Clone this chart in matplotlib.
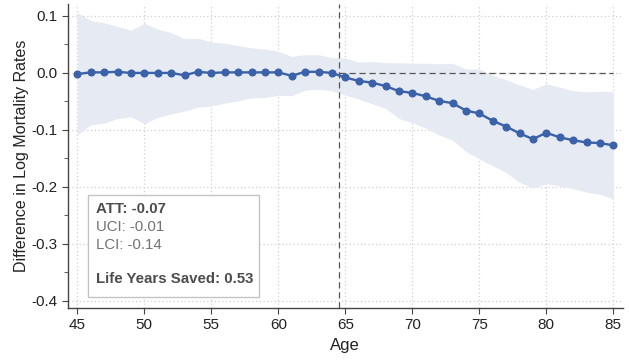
#!/usr/bin/env python3
"""Event-study style plot: difference in log mortality rates by age."""

import matplotlib

matplotlib.use("Agg")
import matplotlib.pyplot as plt
from matplotlib.ticker import MultipleLocator

plt.rcParams["font.family"] = ["Liberation Sans", "DejaVu Sans"]

ages = list(range(45, 86))
estimate = [
    -0.002, 0.001, 0.001, 0.002, 0.000, 0.000, 0.000, 0.000, -0.004, 0.002,
    0.000, 0.001, 0.001, 0.001, 0.001, 0.001, -0.005, 0.002, 0.002, 0.000,
    -0.008, -0.014, -0.017, -0.023, -0.032, -0.035, -0.041, -0.049, -0.053, -0.066,
    -0.071, -0.084, -0.094, -0.106, -0.116, -0.105, -0.113, -0.118, -0.122, -0.123,
    -0.127,
]
upper = [
    0.106, 0.092, 0.088, 0.082, 0.075, 0.087, 0.077, 0.071, 0.060, 0.061,
    0.054, 0.052, 0.048, 0.044, 0.042, 0.038, 0.029, 0.032, 0.032, 0.027,
    0.026, 0.019, 0.020, 0.018, 0.018, 0.017, 0.017, 0.016, 0.017, 0.007,
    0.007, -0.004, -0.012, -0.021, -0.029, -0.019, -0.025, -0.031, -0.033, -0.032,
    -0.033,
]
lower = [
    -0.109, -0.091, -0.088, -0.080, -0.077, -0.089, -0.078, -0.072, -0.067, -0.060,
    -0.058, -0.053, -0.049, -0.044, -0.043, -0.039, -0.040, -0.030, -0.029, -0.031,
    -0.039, -0.046, -0.054, -0.062, -0.080, -0.087, -0.097, -0.109, -0.118, -0.138,
    -0.151, -0.163, -0.175, -0.192, -0.202, -0.194, -0.198, -0.203, -0.209, -0.213,
    -0.221,
]

treat_age = 64.5
att, uci, lci = -0.07, -0.01, -0.14
life_years_saved = 0.53

line_color = "#3b62a8"
band_color = "#e6eaf3"
spine_color = "#444444"

fig = plt.figure(figsize=(6.29, 3.6), dpi=100)
ax = fig.add_axes([0.108, 0.145, 0.882, 0.844])

ax.fill_between(ages, lower, upper, color=band_color, linewidth=0, zorder=1)
ax.plot(ages, estimate, color=line_color, linewidth=1.7, marker="o",
        markersize=4.8, zorder=3)

ax.axvline(treat_age, color="#555555", linestyle=(0, (5, 3)), linewidth=0.9, zorder=2)
ax.hlines(0, treat_age, ages[-1], color="#555555", linestyle=(0, (5, 3)),
          linewidth=0.9, zorder=2)

ax.set_xlim(44.3, 85.7)
ax.set_ylim(-0.412, 0.121)
ax.xaxis.set_major_locator(MultipleLocator(5))
ax.yaxis.set_major_locator(MultipleLocator(0.1))
ax.yaxis.set_minor_locator(MultipleLocator(0.05))
ax.yaxis.set_major_formatter(lambda v, pos: f"{v:.1f}".replace("-0.0", "0.0"))

ax.grid(True, which="major", color="#d0d0d0", linestyle=(0, (1, 2)), linewidth=0.9)
ax.set_axisbelow(True)

for side in ("top", "right"):
    ax.spines[side].set_visible(False)
for side in ("left", "bottom"):
    ax.spines[side].set_color(spine_color)
    ax.spines[side].set_linewidth(1.0)

ax.tick_params(axis="both", which="both", direction="out", color=spine_color,
               labelsize=11, labelcolor="#222222")
ax.tick_params(axis="both", which="major", length=4)
ax.tick_params(axis="y", which="minor", length=3)

ax.set_xlabel("Age", fontsize=12, color="#222222", labelpad=4)
ax.set_ylabel("Difference in Log Mortality Rates", fontsize=11.5, color="#222222",
              labelpad=2)

# summary box in the lower left
box = plt.Rectangle((0.037, 0.036), 0.308, 0.336, transform=ax.transAxes,
                    facecolor="white", edgecolor="#c4c4c4", linewidth=1.0, zorder=4)
ax.add_patch(box)
box_size = 10.8
ax.text(0.05, 0.326, f"ATT: {att:.2f}", transform=ax.transAxes, fontsize=box_size,
        fontweight="bold", color="#4d4d4d", va="center", zorder=5)
ax.text(0.05, 0.266, f"UCI: {uci:.2f}", transform=ax.transAxes, fontsize=box_size,
        color="#737373", va="center", zorder=5)
ax.text(0.05, 0.207, f"LCI: {lci:.2f}", transform=ax.transAxes, fontsize=box_size,
        color="#737373", va="center", zorder=5)
ax.text(0.05, 0.095, f"Life Years Saved: {life_years_saved:.2f}", transform=ax.transAxes,
        fontsize=box_size, fontweight="bold", color="#4d4d4d", va="center", zorder=5)

fig.savefig("out.png", dpi=100)
